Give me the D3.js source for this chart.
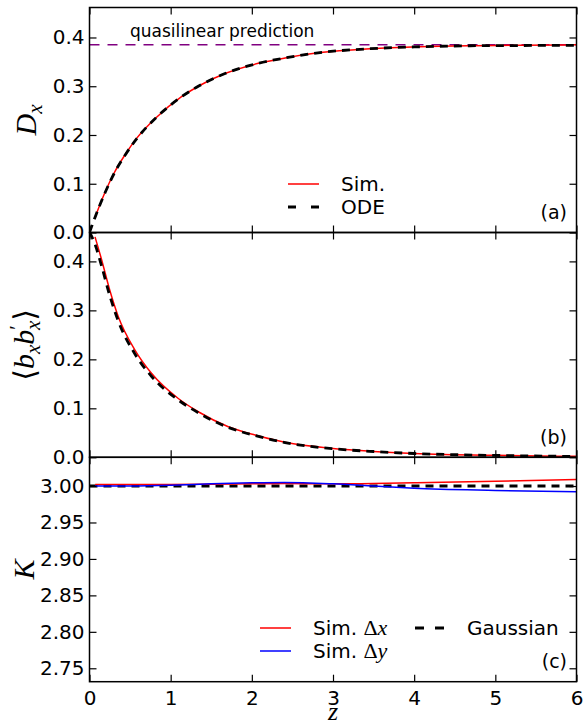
<!DOCTYPE html>
<html>
<head>
<meta charset="utf-8">
<script src="https://cdn.jsdelivr.net/npm/d3@7"></script>
<style>
  html, body { margin: 0; padding: 0; background: #fff; }
  svg { display: block; }
  .tick text { font-family: "DejaVu Sans", sans-serif; font-size: 20px; fill: #000; }
</style>
</head>
<body>
<svg id="chart" width="584" height="726"></svg>
<script>
// ---------------- data ----------------
const zOdeA = [0, 0.07, 0.19, 0.30, 0.44, 0.58, 0.83, 1.13, 1.34, 1.67, 2.08, 2.41, 2.84, 3.46, 4.07, 4.69, 5.30, 6.00];
const odeA  = [0, 0.032, 0.081, 0.120, 0.159, 0.192, 0.237, 0.278, 0.300, 0.326, 0.347, 0.358, 0.369, 0.377, 0.381, 0.383, 0.3835, 0.384];
const zSimA = [0.07, 0.19, 0.30, 0.44, 0.58, 0.83, 1.13, 1.34, 1.67, 2.08, 2.41, 2.84, 3.46, 4.07, 4.69, 5.30, 6.00];
const simA  = [0.032, 0.082, 0.121, 0.160, 0.193, 0.237, 0.278, 0.300, 0.326, 0.347, 0.358, 0.369, 0.377, 0.381, 0.383, 0.384, 0.385];
const quasilinear = 0.385;

const zOdeB = [0, 0.068, 0.15, 0.25, 0.355, 0.56, 0.766, 1.094, 1.34, 1.71, 2.04, 2.41, 3.0, 3.5, 4.0, 5.0, 6.0];
const odeB  = [0.46, 0.435, 0.39, 0.330, 0.278, 0.211, 0.165, 0.117, 0.091, 0.061, 0.0445, 0.030, 0.0175, 0.0118, 0.0078, 0.0038, 0.0018];
const zSimB = [0.068, 0.15, 0.25, 0.355, 0.56, 0.766, 1.094, 1.34, 1.71, 2.04, 2.41, 3.0, 3.5, 4.0, 5.0, 6.0];
const simB  = [0.450, 0.403, 0.341, 0.287, 0.219, 0.171, 0.120, 0.093, 0.0625, 0.0455, 0.0306, 0.018, 0.012, 0.008, 0.004, 0.002];

const zC     = [0.07, 0.5, 1.0, 1.5, 2.0, 2.4, 3.0, 3.5, 4.0, 5.0, 6.0];
const simDx  = [3.002, 3.002, 3.002, 3.0025, 3.003, 3.0035, 3.003, 3.0035, 3.0045, 3.0065, 3.009];
const simDy  = [3.000, 3.000, 3.001, 3.003, 3.0045, 3.005, 3.003, 3.000, 2.997, 2.994, 2.992];
const zGauss = [0, 6];
const gauss  = [3.0, 3.0];

const xTicks  = [0, 1, 2, 3, 4, 5, 6];
const yTicksA = [0.0, 0.1, 0.2, 0.3, 0.4];
const yTicksB = [0.0, 0.1, 0.2, 0.3, 0.4];
const yTicksC = [2.75, 2.80, 2.85, 2.90, 2.95, 3.00];

// ---------------- layout ----------------
const svg = d3.select("#chart");
const X0 = 89.5, X1 = 576.5;
const x = d3.scaleLinear().domain([0, 6]).range([X0, X1]);
const panels = [
  { top: 7.5,   bottom: 232.5, domain: [0, 0.4615], ticks: yTicksA, fmt: d3.format(".1f") },
  { top: 232.5, bottom: 457.3, domain: [0, 0.459],  ticks: yTicksB, fmt: d3.format(".1f") },
  { top: 457.3, bottom: 681.7, domain: [2.7316, 3.0394], ticks: yTicksC, fmt: d3.format(".2f") }
];
panels.forEach(p => { p.y = d3.scaleLinear().domain(p.domain).range([p.bottom, p.top]); });

const TL = 7;
const serif = "'Liberation Serif', 'DejaVu Serif', serif";
const sans = "'DejaVu Sans', sans-serif";

panels.forEach((p, i) => {
  const clipId = "clip" + i;
  svg.append("clipPath").attr("id", clipId).append("rect")
    .attr("x", X0).attr("y", p.top).attr("width", X1 - X0).attr("height", p.bottom - p.top);
  p.g = svg.append("g").attr("clip-path", `url(#${clipId})`);
});

function line(p, xs, ys) {
  return d3.line().x((d, i) => x(xs[i])).y((d, i) => p.y(ys[i])).curve(d3.curveMonotoneX)(ys);
}

// ---- panel a ----
const pa = panels[0];
pa.g.append("line").attr("x1", x(0)).attr("x2", x(6)).attr("y1", pa.y(quasilinear)).attr("y2", pa.y(quasilinear))
  .attr("stroke", "#800080").attr("stroke-width", 1.5).attr("stroke-dasharray", "10,8");
pa.g.append("path").attr("d", line(pa, zSimA, simA)).attr("fill", "none").attr("stroke", "#ff0000").attr("stroke-width", 1.5);
pa.g.append("path").attr("d", line(pa, zOdeA, odeA)).attr("fill", "none").attr("stroke", "#000").attr("stroke-width", 2.8).attr("stroke-dasharray", "8,6");

// ---- panel b ----
const pb = panels[1];
pb.g.append("path").attr("d", line(pb, zSimB, simB)).attr("fill", "none").attr("stroke", "#ff0000").attr("stroke-width", 1.5);
pb.g.append("path").attr("d", line(pb, zOdeB, odeB)).attr("fill", "none").attr("stroke", "#000").attr("stroke-width", 2.8).attr("stroke-dasharray", "8,6");

// ---- panel c ----
const pc = panels[2];
pc.g.append("path").attr("d", line(pc, zGauss, gauss)).attr("fill", "none").attr("stroke", "#000").attr("stroke-width", 2.8).attr("stroke-dasharray", "8,6");
pc.g.append("path").attr("d", line(pc, zC, simDx)).attr("fill", "none").attr("stroke", "#ff0000").attr("stroke-width", 1.5);
pc.g.append("path").attr("d", line(pc, zC, simDy)).attr("fill", "none").attr("stroke", "#0000ff").attr("stroke-width", 1.5);

// ---- axes ----
panels.forEach((p, i) => {
  const left = svg.append("g").attr("transform", `translate(${X0},0)`)
    .call(d3.axisLeft(p.y).tickValues(p.ticks).tickFormat(p.fmt).tickSizeInner(-TL).tickSizeOuter(0).tickPadding(5));
  const right = svg.append("g").attr("transform", `translate(${X1},0)`)
    .call(d3.axisRight(p.y).tickValues(p.ticks).tickFormat("").tickSizeInner(-TL).tickSizeOuter(0));
  const top = svg.append("g").attr("transform", `translate(0,${p.top})`)
    .call(d3.axisTop(x).tickValues(xTicks).tickFormat("").tickSizeInner(-TL).tickSizeOuter(0));
  const bottom = svg.append("g").attr("transform", `translate(0,${p.bottom})`)
    .call(d3.axisBottom(x).tickValues(xTicks).tickFormat(i === 2 ? d3.format("d") : "").tickSizeInner(-TL).tickSizeOuter(0).tickPadding(9));
  [left, right, top, bottom].forEach(a => {
    a.select(".domain").remove();
    a.selectAll(".tick line").attr("stroke", "#000").attr("stroke-width", 1.2);
  });
  left.selectAll(".tick text").attr("font-family", sans).attr("font-size", 20);
  bottom.selectAll(".tick text").attr("font-family", sans).attr("font-size", 20);
  svg.append("rect").attr("x", X0).attr("y", p.top).attr("width", X1 - X0).attr("height", p.bottom - p.top)
    .attr("fill", "none").attr("stroke", "#000").attr("stroke-width", 1.5);
});

// ---- axis labels ----
const dx = svg.append("text").attr("transform", `translate(36,${(pa.top + pa.bottom) / 2}) rotate(-90)`)
  .attr("text-anchor", "middle").attr("font-family", serif).attr("font-size", 30).attr("font-style", "italic");
dx.append("tspan").text("D");
dx.append("tspan").attr("dy", 6).attr("font-size", 21).text("x");

const bb = svg.append("text").attr("transform", `translate(34,${(pb.top + pb.bottom) / 2}) rotate(-90)`)
  .attr("text-anchor", "middle").attr("font-family", serif).attr("font-size", 30);
bb.append("tspan").attr("font-family", "'DejaVu Serif', serif").attr("font-size", 30).attr("dy", 1).text("\u27E8");
bb.append("tspan").attr("font-style", "italic").attr("dy", -1).text("b");
bb.append("tspan").attr("font-style", "italic").attr("font-size", 21).attr("dy", 6).text("x");
bb.append("tspan").attr("font-style", "italic").attr("dy", -6).text("b");
bb.append("tspan").attr("font-size", 21).attr("dy", -10).text("\u2032");
bb.append("tspan").attr("font-style", "italic").attr("font-size", 21).attr("dx", -5).attr("dy", 16).text("x");
bb.append("tspan").attr("font-family", "'DejaVu Serif', serif").attr("font-size", 30).attr("dy", -5).text("\u27E9");

svg.append("text").attr("transform", `translate(34,${(pc.top + pc.bottom) / 2}) rotate(-90)`)
  .attr("text-anchor", "middle").attr("font-family", serif).attr("font-size", 30).attr("font-style", "italic").text("K");

svg.append("text").attr("x", (X0 + X1) / 2).attr("y", 720).attr("text-anchor", "middle")
  .attr("font-family", serif).attr("font-size", 26).attr("font-style", "italic").text("z");

// ---- annotations ----
svg.append("text").attr("x", 130).attr("y", 37).attr("font-family", sans).attr("font-size", 17).text("quasilinear prediction");
svg.append("text").attr("x", 567).attr("y", 219).attr("text-anchor", "end").attr("font-family", sans).attr("font-size", 19).text("(a)");
svg.append("text").attr("x", 567).attr("y", 444).attr("text-anchor", "end").attr("font-family", sans).attr("font-size", 19).text("(b)");
svg.append("text").attr("x", 567).attr("y", 668).attr("text-anchor", "end").attr("font-family", sans).attr("font-size", 19).text("(c)");

// ---- legend a ----
svg.append("line").attr("x1", 288).attr("x2", 319).attr("y1", 184).attr("y2", 184).attr("stroke", "#ff0000").attr("stroke-width", 1.5);
svg.append("line").attr("x1", 288).attr("x2", 319).attr("y1", 207).attr("y2", 207).attr("stroke", "#000").attr("stroke-width", 2.8).attr("stroke-dasharray", "8,15");
svg.append("text").attr("x", 341).attr("y", 191).attr("font-family", sans).attr("font-size", 20).text("Sim.");
svg.append("text").attr("x", 341).attr("y", 214).attr("font-family", sans).attr("font-size", 20).text("ODE");

// ---- legend c ----
svg.append("line").attr("x1", 260).attr("x2", 291).attr("y1", 628).attr("y2", 628).attr("stroke", "#ff0000").attr("stroke-width", 1.5);
svg.append("line").attr("x1", 260).attr("x2", 291).attr("y1", 651).attr("y2", 651).attr("stroke", "#0000ff").attr("stroke-width", 1.5);
svg.append("line").attr("x1", 415).attr("x2", 444).attr("y1", 628).attr("y2", 628).attr("stroke", "#000").attr("stroke-width", 2.8).attr("stroke-dasharray", "9,11");
function simLabel(yy, v) {
  const t = svg.append("text").attr("x", 313).attr("y", yy).attr("font-family", sans).attr("font-size", 20);
  t.append("tspan").text("Sim. ");
  t.append("tspan").attr("font-family", serif).attr("font-size", 22).text("\u0394");
  t.append("tspan").attr("font-family", serif).attr("font-size", 22).attr("font-style", "italic").text(v);
}
simLabel(635, "x");
simLabel(658, "y");
svg.append("text").attr("x", 467).attr("y", 635).attr("font-family", sans).attr("font-size", 20).text("Gaussian");
</script>
</body>
</html>
